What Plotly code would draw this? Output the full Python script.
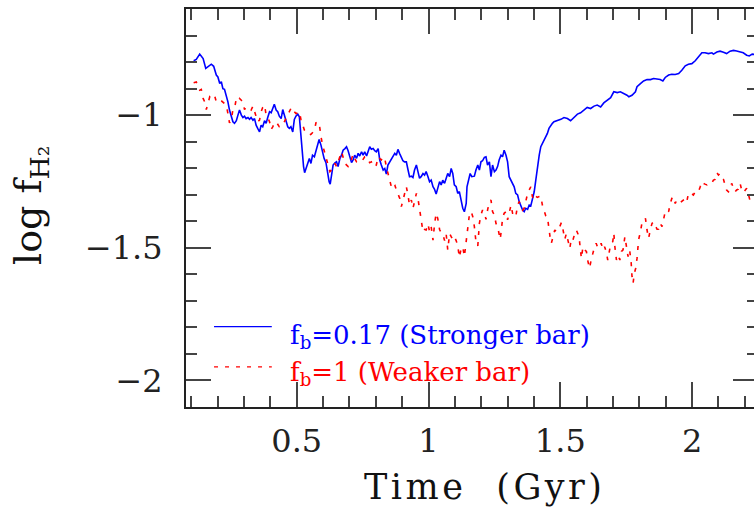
import plotly.graph_objects as go

# Molecular gas fraction history for the two bar-strength runs
strong_t = [0.109, 0.119, 0.132, 0.138, 0.145, 0.155, 0.164, 0.176, 0.185, 0.195, 0.201, 0.208, 0.214, 0.220, 0.226,
            0.233, 0.239, 0.245, 0.252, 0.258, 0.264, 0.271, 0.277, 0.283, 0.290, 0.296, 0.302, 0.308, 0.315, 0.321,
            0.327, 0.334, 0.340, 0.346, 0.352, 0.359, 0.365, 0.371, 0.378, 0.384, 0.390, 0.397, 0.403, 0.409, 0.415,
            0.422, 0.428, 0.434, 0.441, 0.447, 0.453, 0.460, 0.466, 0.472, 0.478, 0.485, 0.491, 0.497, 0.504, 0.510,
            0.514, 0.519, 0.523, 0.526, 0.530, 0.535, 0.541, 0.548, 0.554, 0.560, 0.567, 0.573, 0.579, 0.585, 0.592,
            0.598, 0.604, 0.611, 0.617, 0.623, 0.627, 0.632, 0.638, 0.645, 0.651, 0.657, 0.664, 0.670, 0.676, 0.683,
            0.689, 0.695, 0.702, 0.708, 0.714, 0.720, 0.727, 0.733, 0.739, 0.746, 0.752, 0.758, 0.765, 0.771, 0.777,
            0.783, 0.790, 0.796, 0.802, 0.809, 0.815, 0.821, 0.828, 0.834, 0.840, 0.846, 0.853, 0.859, 0.865, 0.872,
            0.878, 0.884, 0.891, 0.897, 0.903, 0.909, 0.916, 0.922, 0.928, 0.935, 0.941, 0.947, 0.954, 0.960, 0.966,
            0.972, 0.979, 0.985, 0.991, 0.998, 1.004, 1.010, 1.017, 1.023, 1.029, 1.035, 1.042, 1.048, 1.054, 1.061,
            1.067, 1.073, 1.080, 1.086, 1.092, 1.098, 1.105, 1.111, 1.117, 1.124, 1.130, 1.136, 1.143, 1.146, 1.153,
            1.158, 1.164, 1.174, 1.180, 1.187, 1.193, 1.199, 1.205, 1.212, 1.218, 1.224, 1.231, 1.237, 1.243, 1.250,
            1.256, 1.262, 1.268, 1.275, 1.281, 1.287, 1.294, 1.300, 1.306, 1.313, 1.319, 1.325, 1.331, 1.338, 1.344,
            1.350, 1.357, 1.363, 1.369, 1.376, 1.382, 1.388, 1.394, 1.401, 1.407, 1.413, 1.420, 1.426, 1.432, 1.439,
            1.445, 1.451, 1.457, 1.464, 1.470, 1.476, 1.489, 1.502, 1.514, 1.527, 1.539, 1.552, 1.565, 1.577, 1.590,
            1.602, 1.615, 1.628, 1.640, 1.653, 1.665, 1.678, 1.691, 1.703, 1.716, 1.728, 1.741, 1.753, 1.760, 1.772,
            1.785, 1.791, 1.804, 1.816, 1.829, 1.842, 1.854, 1.867, 1.879, 1.889, 1.898, 1.911, 1.923, 1.936, 1.949,
            1.961, 1.974, 1.986, 1.999, 2.012, 2.024, 2.037, 2.049, 2.062, 2.075, 2.081, 2.094, 2.106, 2.119, 2.131,
            2.144, 2.157, 2.169, 2.182, 2.194, 2.207, 2.217, 2.228, 2.240]
strong_v = [-0.795, -0.790, -0.770, -0.778, -0.787, -0.824, -0.818, -0.808, -0.816, -0.849, -0.856, -0.881, -0.874,
            -0.900, -0.903, -0.925, -0.950, -0.981, -1.006, -1.025, -1.031, -1.021, -1.000, -0.981, -1.000, -1.009,
            -1.004, -1.013, -1.009, -1.016, -1.009, -1.019, -1.013, -1.038, -1.050, -1.063, -1.038, -1.044, -1.021,
            -1.031, -1.009, -0.987, -0.991, -0.975, -0.959, -0.981, -0.987, -1.004, -1.013, -0.979, -1.000, -1.025,
            -1.044, -1.050, -1.044, -1.063, -1.016, -1.004, -0.996, -1.006, -1.056, -1.107, -1.157, -1.194, -1.217,
            -1.201, -1.176, -1.163, -1.182, -1.151, -1.157, -1.132, -1.107, -1.092, -1.113, -1.138, -1.163, -1.179,
            -1.220, -1.251, -1.260, -1.220, -1.188, -1.180, -1.176, -1.194, -1.163, -1.151, -1.132, -1.126, -1.119,
            -1.134, -1.163, -1.179, -1.169, -1.151, -1.163, -1.144, -1.154, -1.138, -1.151, -1.138, -1.154, -1.132,
            -1.119, -1.129, -1.126, -1.134, -1.138, -1.126, -1.169, -1.188, -1.207, -1.201, -1.222, -1.188, -1.176,
            -1.163, -1.154, -1.144, -1.151, -1.129, -1.146, -1.157, -1.172, -1.176, -1.176, -1.205, -1.232, -1.230,
            -1.235, -1.207, -1.188, -1.213, -1.238, -1.232, -1.220, -1.226, -1.213, -1.232, -1.251, -1.245, -1.270,
            -1.280, -1.297, -1.276, -1.251, -1.263, -1.245, -1.257, -1.238, -1.220, -1.232, -1.201, -1.220, -1.263,
            -1.270, -1.295, -1.288, -1.320, -1.351, -1.364, -1.333, -1.270, -1.241, -1.220, -1.232, -1.230, -1.207,
            -1.188, -1.207, -1.176, -1.172, -1.159, -1.157, -1.188, -1.176, -1.232, -1.188, -1.213, -1.207, -1.194,
            -1.169, -1.151, -1.157, -1.132, -1.151, -1.176, -1.232, -1.245, -1.257, -1.270, -1.295, -1.301, -1.326,
            -1.345, -1.358, -1.364, -1.351, -1.355, -1.339, -1.342, -1.320, -1.289, -1.245, -1.194, -1.151, -1.119,
            -1.107, -1.094, -1.082, -1.069, -1.050, -1.038, -1.031, -1.025, -1.021, -1.016, -1.009, -1.013, -1.021,
            -1.009, -0.996, -0.991, -0.981, -0.971, -0.975, -0.966, -0.962, -0.969, -0.954, -0.944, -0.934, -0.912,
            -0.915, -0.912, -0.918, -0.925, -0.931, -0.925, -0.912, -0.893, -0.881, -0.871, -0.866, -0.866, -0.862,
            -0.863, -0.866, -0.871, -0.858, -0.849, -0.846, -0.847, -0.843, -0.831, -0.814, -0.808, -0.806, -0.795,
            -0.780, -0.765, -0.765, -0.768, -0.765, -0.770, -0.762, -0.759, -0.763, -0.768, -0.759, -0.756, -0.758,
            -0.762, -0.765, -0.774, -0.777, -0.770, -0.772]

weak_t = [0.109, 0.119, 0.132, 0.138, 0.145, 0.151, 0.157, 0.164, 0.170, 0.176, 0.182, 0.189, 0.195, 0.201, 0.208,
          0.214, 0.220, 0.226, 0.233, 0.239, 0.245, 0.252, 0.258, 0.264, 0.271, 0.277, 0.283, 0.290, 0.296, 0.302,
          0.308, 0.315, 0.321, 0.327, 0.334, 0.340, 0.346, 0.352, 0.359, 0.365, 0.371, 0.378, 0.384, 0.390, 0.397,
          0.403, 0.409, 0.415, 0.422, 0.428, 0.434, 0.441, 0.447, 0.453, 0.460, 0.466, 0.472, 0.478, 0.485, 0.491,
          0.497, 0.504, 0.510, 0.516, 0.523, 0.529, 0.535, 0.541, 0.548, 0.554, 0.560, 0.567, 0.573, 0.579, 0.585,
          0.589, 0.594, 0.600, 0.607, 0.613, 0.620, 0.626, 0.632, 0.639, 0.645, 0.651, 0.664, 0.670, 0.683, 0.695,
          0.702, 0.714, 0.720, 0.727, 0.739, 0.746, 0.758, 0.765, 0.771, 0.777, 0.783, 0.790, 0.796, 0.802, 0.809,
          0.815, 0.821, 0.828, 0.834, 0.840, 0.846, 0.853, 0.859, 0.865, 0.872, 0.878, 0.884, 0.891, 0.897, 0.903,
          0.909, 0.916, 0.922, 0.928, 0.935, 0.941, 0.947, 0.954, 0.960, 0.966, 0.972, 0.979, 0.985, 0.991, 0.998,
          1.004, 1.010, 1.017, 1.023, 1.029, 1.035, 1.042, 1.048, 1.054, 1.061, 1.067, 1.073, 1.080, 1.086, 1.092,
          1.098, 1.105, 1.111, 1.117, 1.124, 1.130, 1.136, 1.143, 1.149, 1.155, 1.162, 1.168, 1.174, 1.180, 1.187,
          1.189, 1.193, 1.199, 1.205, 1.212, 1.218, 1.224, 1.231, 1.237, 1.243, 1.250, 1.256, 1.262, 1.268, 1.272,
          1.277, 1.281, 1.287, 1.294, 1.300, 1.306, 1.313, 1.319, 1.325, 1.331, 1.338, 1.344, 1.350, 1.357, 1.363,
          1.369, 1.376, 1.382, 1.388, 1.394, 1.401, 1.407, 1.413, 1.420, 1.426, 1.432, 1.439, 1.445, 1.451, 1.455,
          1.461, 1.466, 1.473, 1.479, 1.485, 1.492, 1.498, 1.504, 1.510, 1.517, 1.523, 1.529, 1.536, 1.542, 1.548,
          1.555, 1.561, 1.567, 1.573, 1.580, 1.586, 1.592, 1.599, 1.605, 1.611, 1.617, 1.624, 1.630, 1.636, 1.643,
          1.649, 1.655, 1.662, 1.668, 1.674, 1.680, 1.687, 1.693, 1.699, 1.703, 1.707, 1.713, 1.719, 1.726, 1.732,
          1.738, 1.745, 1.751, 1.757, 1.763, 1.769, 1.772, 1.776, 1.781, 1.786, 1.791, 1.795, 1.797, 1.804, 1.810,
          1.816, 1.823, 1.829, 1.835, 1.842, 1.848, 1.854, 1.860, 1.867, 1.873, 1.879, 1.886, 1.892, 1.898, 1.905,
          1.911, 1.917, 1.923, 1.930, 1.936, 1.942, 1.949, 1.955, 1.961, 1.968, 1.974, 1.980, 1.986, 1.993, 1.999,
          2.005, 2.012, 2.018, 2.024, 2.031, 2.037, 2.043, 2.049, 2.056, 2.062, 2.068, 2.075, 2.081, 2.087, 2.094,
          2.100, 2.106, 2.112, 2.119, 2.125, 2.131, 2.138, 2.144, 2.150, 2.157, 2.163, 2.169, 2.175, 2.182, 2.188,
          2.194, 2.201, 2.207, 2.213, 2.219, 2.226, 2.240]
weak_v = [-0.878, -0.875, -0.906, -0.903, -0.937, -0.950, -0.979, -0.950, -0.931, -0.937, -0.937, -0.928, -0.950,
          -0.950, -0.944, -0.946, -0.950, -0.956, -0.962, -0.994, -1.029, -1.016, -0.979, -0.975, -0.937, -0.944,
          -0.937, -0.944, -0.950, -0.979, -0.969, -0.971, -0.975, -0.981, -0.966, -0.987, -1.013, -1.025, -1.019,
          -0.987, -0.971, -0.962, -1.000, -1.009, -1.025, -1.054, -1.044, -1.031, -1.025, -1.034, -1.044, -1.044,
          -1.038, -1.025, -1.013, -1.000, -0.987, -0.975, -0.971, -0.987, -0.994, -0.991, -0.987, -1.016, -1.038,
          -1.056, -1.063, -1.069, -1.075, -1.072, -1.066, -1.059, -1.029, -1.025, -1.031, -1.063, -1.092, -1.119,
          -1.142, -1.163, -1.188, -1.213, -1.207, -1.194, -1.182, -1.194, -1.157, -1.138, -1.182, -1.194, -1.184,
          -1.147, -1.163, -1.176, -1.179, -1.176, -1.157, -1.157, -1.169, -1.179, -1.176, -1.194, -1.194, -1.188,
          -1.157, -1.163, -1.169, -1.157, -1.163, -1.194, -1.220, -1.242, -1.270, -1.257, -1.263, -1.282, -1.295,
          -1.314, -1.345, -1.322, -1.307, -1.270, -1.301, -1.339, -1.320, -1.351, -1.326, -1.295, -1.314, -1.358,
          -1.395, -1.439, -1.431, -1.433, -1.410, -1.439, -1.420, -1.471, -1.410, -1.370, -1.389, -1.431, -1.443,
          -1.448, -1.473, -1.448, -1.508, -1.446, -1.458, -1.468, -1.458, -1.473, -1.493, -1.536, -1.502, -1.496,
          -1.533, -1.471, -1.427, -1.376, -1.364, -1.383, -1.420, -1.477, -1.493, -1.448, -1.408, -1.376, -1.358,
          -1.367, -1.393, -1.358, -1.326, -1.320, -1.364, -1.376, -1.408, -1.420, -1.443, -1.468, -1.427, -1.389,
          -1.370, -1.364, -1.395, -1.364, -1.339, -1.370, -1.370, -1.383, -1.339, -1.326, -1.339, -1.358, -1.351,
          -1.320, -1.295, -1.282, -1.270, -1.307, -1.320, -1.305, -1.310, -1.307, -1.305, -1.339, -1.358, -1.380,
          -1.383, -1.418, -1.458, -1.483, -1.452, -1.433, -1.439, -1.433, -1.420, -1.405, -1.430, -1.468, -1.446,
          -1.473, -1.502, -1.464, -1.470, -1.446, -1.433, -1.448, -1.477, -1.540, -1.496, -1.508, -1.514, -1.552,
          -1.577, -1.546, -1.518, -1.496, -1.483, -1.502, -1.496, -1.483, -1.508, -1.496, -1.514, -1.546, -1.508,
          -1.483, -1.477, -1.445, -1.496, -1.546, -1.528, -1.546, -1.514, -1.508, -1.458, -1.496, -1.533, -1.508,
          -1.558, -1.608, -1.634, -1.596, -1.577, -1.540, -1.502, -1.470, -1.439, -1.405, -1.402, -1.389, -1.433,
          -1.464, -1.430, -1.408, -1.402, -1.414, -1.430, -1.430, -1.408, -1.420, -1.395, -1.364, -1.358, -1.364,
          -1.333, -1.314, -1.307, -1.333, -1.320, -1.322, -1.330, -1.326, -1.320, -1.314, -1.326, -1.295, -1.292,
          -1.297, -1.301, -1.289, -1.292, -1.289, -1.270, -1.276, -1.257, -1.260, -1.263, -1.257, -1.260, -1.255,
          -1.245, -1.242, -1.217, -1.226, -1.220, -1.232, -1.242, -1.263, -1.282, -1.289, -1.282, -1.257, -1.279,
          -1.289, -1.282, -1.279, -1.257, -1.282, -1.292, -1.282, -1.276, -1.295, -1.320, -1.301, -1.300]

legend_labels = ["f<sub>b</sub>=0.17 (Stronger bar)", "f<sub>b</sub>=1 (Weaker bar)"]
line_colors = ["#0000ff", "#ff0000"]
weak_dash = "4px,7px"

fig = go.Figure()
fig.add_trace(go.Scatter(x=strong_t, y=strong_v, mode="lines",
                         line=dict(color=line_colors[0], width=1.6), showlegend=False))
fig.add_trace(go.Scatter(x=weak_t, y=weak_v, mode="lines",
                         line=dict(color=line_colors[1], width=1.6, dash=weak_dash), showlegend=False))

# hand-drawn key in the lower-left corner
key_y = [0.202, 0.101]
key_text_y = [0.176, 0.084]
key_dash = ["solid", weak_dash]
for i in range(2):
    fig.add_shape(type="line", xref="paper", yref="paper", x0=0.049, x1=0.150, y0=key_y[i], y1=key_y[i],
                  line=dict(color=line_colors[i], width=1.2, dash=key_dash[i]))
    fig.add_annotation(xref="paper", yref="paper", x=0.179, y=key_text_y[i], xanchor="left", yanchor="middle",
                       text=legend_labels[i], showarrow=False,
                       font=dict(family="DejaVu Serif", size=26, color=line_colors[i]))

# axis titles (hair spaces widen the letter spacing)
hs = "\u200a"
x_title = hs.join("Time") + "\u00a0\u00a0\u00a0" + hs.join("(Gyr)")
fig.add_annotation(xref="paper", yref="paper", x=0.519, y=0, yshift=-80, xanchor="center", yanchor="middle",
                   text=x_title, showarrow=False,
                   font=dict(family="DejaVu Serif", size=35, color="#111"))
fig.add_annotation(xref="paper", yref="paper", x=0, xshift=-156, y=0.505, xanchor="center", yanchor="middle",
                   text="log f<sub>H₂</sub>", textangle=-90, showarrow=False,
                   font=dict(family="DejaVu Serif", size=38, color="#111"))

axis_common = dict(showgrid=False, zeroline=False, showline=True, linecolor="#222", linewidth=2,
                   mirror="allticks", ticks="inside", ticklen=25, tickwidth=1.6, tickcolor="#444",
                   tickfont=dict(family="DejaVu Serif", size=32, color="#222"))
fig.update_xaxes(range=[0.08, 2.25], dtick=0.5, tick0=0, ticklabelstandoff=5,
                 minor=dict(ticks="inside", ticklen=11, dtick=0.1, tick0=0, tickwidth=1.6, tickcolor="#444"),
                 **axis_common)
fig.update_yaxes(range=[-2.1, -0.6], dtick=0.5, tick0=0, ticklabelstandoff=15,
                 minor=dict(ticks="inside", ticklen=11, dtick=0.1, tick0=0, tickwidth=1.6, tickcolor="#444"),
                 **axis_common)

fig.update_layout(width=762, height=510, autosize=False,
                  margin=dict(l=186, r=2, t=9, b=103),
                  plot_bgcolor="white", paper_bgcolor="white")

fig.write_html("out.html",
               post_script="document.documentElement.style.overflow='hidden';document.body.style.overflow='hidden';")
